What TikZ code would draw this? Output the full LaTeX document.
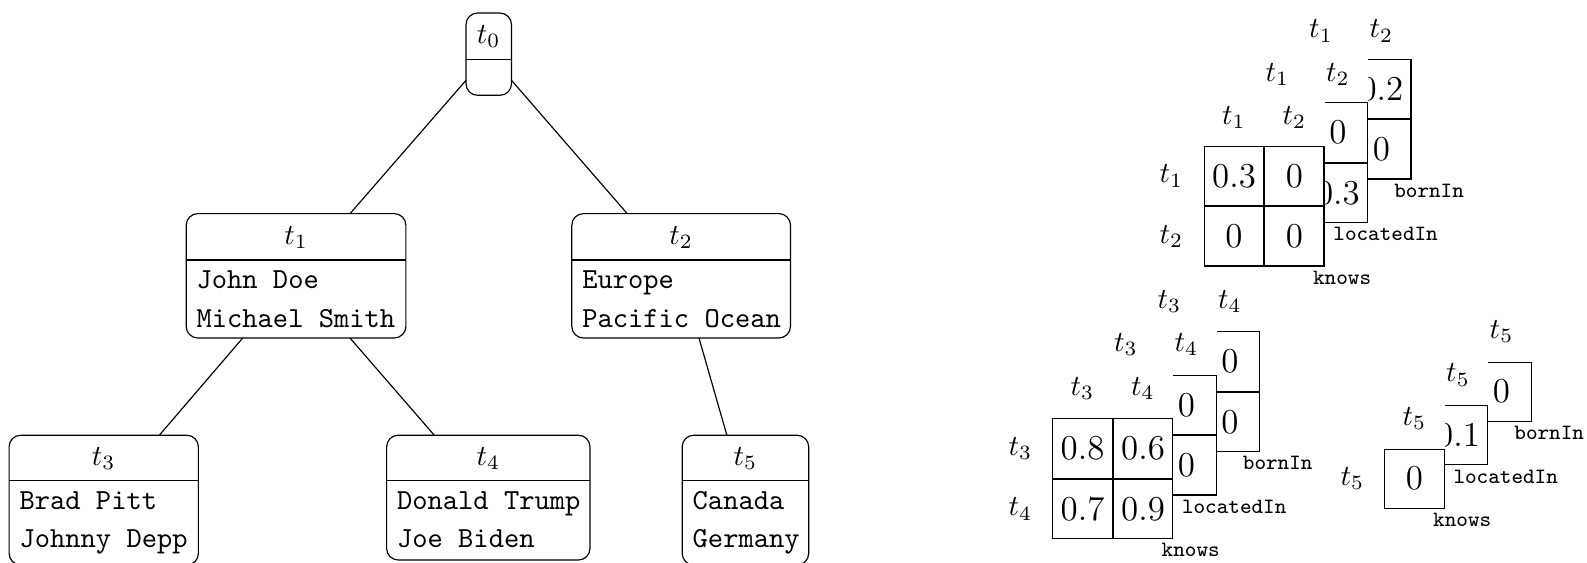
\documentclass[tikz,border=0pt]{standalone}
\newcommand{\pxl}{0.3436pt}
\begin{document}
\begin{tikzpicture}[x=0.3436pt,y=-0.3436pt,
  box/.style={draw, rounded corners=4pt, inner sep=0pt, outer sep=0pt},
  head/.style={inner sep=0pt},
  entry/.style={anchor=base west, inner sep=0pt, font=\ttfamily},
  cell/.style={draw, fill=white, minimum size=20.35pt, inner sep=0pt, font=\large},
  lbl/.style={inner sep=0pt},
  rel/.style={inner sep=0pt, font=\ttfamily\fontsize{7.5}{9}\selectfont},
  link/.style={draw}]
\path[use as bounding box] (0,0) rectangle (1587,562);

% ---------------- type tree ----------------
\node[box, minimum width=45.5*\pxl,  minimum height=82.3*\pxl]  (t0) at (488.75,54.15) {};
\node[box, minimum width=219.7*\pxl, minimum height=124.4*\pxl] (t1) at (296.05,275.8) {};
\node[box, minimum width=218.7*\pxl, minimum height=124.4*\pxl] (t2) at (681.15,275.8) {};
\node[box, minimum width=189.3*\pxl, minimum height=129.8*\pxl] (t3) at (103.75,500.1) {};
\node[box, minimum width=203.4*\pxl, minimum height=124.8*\pxl] (t4) at (488.3,497.6) {};
\node[box, minimum width=126.5*\pxl, minimum height=129.8*\pxl] (t5) at (745.45,500.1) {};

% part dividers
\draw (t0.west |- 0,59.7)  -- (t0.east |- 0,59.7);
\draw (t1.west |- 0,260)   -- (t1.east |- 0,260);
\draw (t2.west |- 0,260)   -- (t2.east |- 0,260);
\draw (t3.west |- 0,480.7) -- (t3.east |- 0,480.7);
\draw (t4.west |- 0,480.7) -- (t4.east |- 0,480.7);
\draw (t5.west |- 0,480.7) -- (t5.east |- 0,480.7);

% headers
\node[head] (t0h) at (488.75,36.8) {$t_0$};
\node[head] (t1h) at (296.05,237.5) {$t_1$};
\node[head] (t2h) at (681.15,237.5) {$t_2$};
\node[head] (t3h) at (103.75,458.3) {$t_3$};
\node[head] (t4h) at (488.3,458.3) {$t_4$};
\node[head] (t5h) at (745.45,458.3) {$t_5$};

% entities
\node[entry] (t1a) at (196,288.3) {John Doe};
\node[entry] (t1b) at (196,327)   {Michael Smith};
\node[entry] (t2a) at (581.7,288.3) {Europe};
\node[entry] (t2b) at (581.7,327)   {Pacific Ocean};
\node[entry] (t3a) at (19,509)     {Brad Pitt};
\node[entry] (t3b) at (19,547.7)   {Johnny Depp};
\node[entry] (t4a) at (396.5,509)  {Donald Trump};
\node[entry] (t4b) at (396.5,547.7) {Joe Biden};
\node[entry] (t5a) at (692.1,509)  {Canada};
\node[entry] (t5b) at (692.1,547.7) {Germany};

% tree edges
\draw[link] (t0) -- (t1);
\draw[link] (t0) -- (t2);
\draw[link] (t1) -- (t3);
\draw[link] (t1) -- (t4);
\draw[link] (t2) -- (t5);

% ---------------- relation tensors for t1, t2 ----------------
% bornIn
\node[cell] (a3r) at (1381.4,89) {$0.2$};
\node[cell] (a3s) at (1381.4,149.4) {$0$};
\node[lbl] (a3c1) at (1321,31) {$t_1$};
\node[lbl] (a3c2) at (1381.4,31) {$t_2$};
\node[rel] (a3n) at (1429.1,190.6) {bornIn};
% locatedIn
\fill[white] (1197.3,56.3) rectangle (1368.1,223.1);
\node[cell] (a2r) at (1337.9,132.5) {$0$};
\node[cell] (a2s) at (1337.9,192.9) {$0.3$};
\node[lbl] (a2c1) at (1277.5,74.5) {$t_1$};
\node[lbl] (a2c2) at (1337.9,74.5) {$t_2$};
\node[rel] (a2n) at (1385.6,234.1) {locatedIn};
% knows
\fill[white] (1153.8,99.8) rectangle (1324.6,266.6);
\node[cell] (a1p) at (1234,176) {$0.3$};
\node[cell] (a1r) at (1294.4,176) {$0$};
\node[cell] (a1q) at (1234,236.4) {$0$};
\node[cell] (a1s) at (1294.4,236.4) {$0$};
\node[lbl] (a1c1) at (1234,117.5) {$t_1$};
\node[lbl] (a1c2) at (1294.4,117.5) {$t_2$};
\node[lbl] (a1r1) at (1171.5,176) {$t_1$};
\node[lbl] (a1r2) at (1171.5,236.4) {$t_2$};
\node[rel] (a1n) at (1342.1,277.6) {knows};

% ---------------- relation tensors for t3, t4 ----------------
% bornIn
\node[cell] (b3r) at (1230,361.5) {$0$};
\node[cell] (b3s) at (1230,421.9) {$0$};
\node[lbl] (b3c1) at (1169.5,301.3) {$t_3$};
\node[lbl] (b3c2) at (1230,301.3) {$t_4$};
\node[rel] (b3n) at (1277.7,463.1) {bornIn};
% locatedIn
\fill[white] (1045.8,328.8) rectangle (1216.7,495.6);
\node[cell] (b2r) at (1186.5,405) {$0$};
\node[cell] (b2s) at (1186.5,465.4) {$0$};
\node[lbl] (b2c1) at (1126,344.8) {$t_3$};
\node[lbl] (b2c2) at (1186.5,344.8) {$t_4$};
\node[rel] (b2n) at (1234.2,506.6) {locatedIn};
% knows
\fill[white] (1002.3,372.3) rectangle (1173.2,539.1);
\node[cell] (b1p) at (1082.5,448.5) {$0.8$};
\node[cell] (b1r) at (1143,448.5) {$0.6$};
\node[cell] (b1q) at (1082.5,508.9) {$0.7$};
\node[cell] (b1s) at (1143,508.9) {$0.9$};
\node[lbl] (b1c1) at (1082.5,388.3) {$t_3$};
\node[lbl] (b1c2) at (1143,388.3) {$t_4$};
\node[lbl] (b1r1) at (1020.3,448.5) {$t_3$};
\node[lbl] (b1r2) at (1020.3,508.9) {$t_4$};
\node[rel] (b1n) at (1190.7,550.1) {knows};

% ---------------- relation tensors for t5 ----------------
% bornIn
\node[cell] (c3s) at (1501.5,391.7) {$0$};
\node[lbl] (c3c1) at (1501.5,331.5) {$t_5$};
\node[rel] (c3n) at (1549.2,432.9) {bornIn};
% locatedIn
\fill[white] (1377.8,359) rectangle (1488.2,465.4);
\node[cell] (c2s) at (1458,435.2) {$0.1$};
\node[lbl] (c2c1) at (1458,375) {$t_5$};
\node[rel] (c2n) at (1505.7,476.4) {locatedIn};
% knows
\fill[white] (1334.3,402.5) rectangle (1444.7,508.9);
\node[cell] (c1s) at (1414.5,478.7) {$0$};
\node[lbl] (c1c1) at (1414.5,418.5) {$t_5$};
\node[lbl] (c1r1) at (1352.3,478.7) {$t_5$};
\node[rel] (c1n) at (1462.2,519.9) {knows};
\end{tikzpicture}
\end{document}
